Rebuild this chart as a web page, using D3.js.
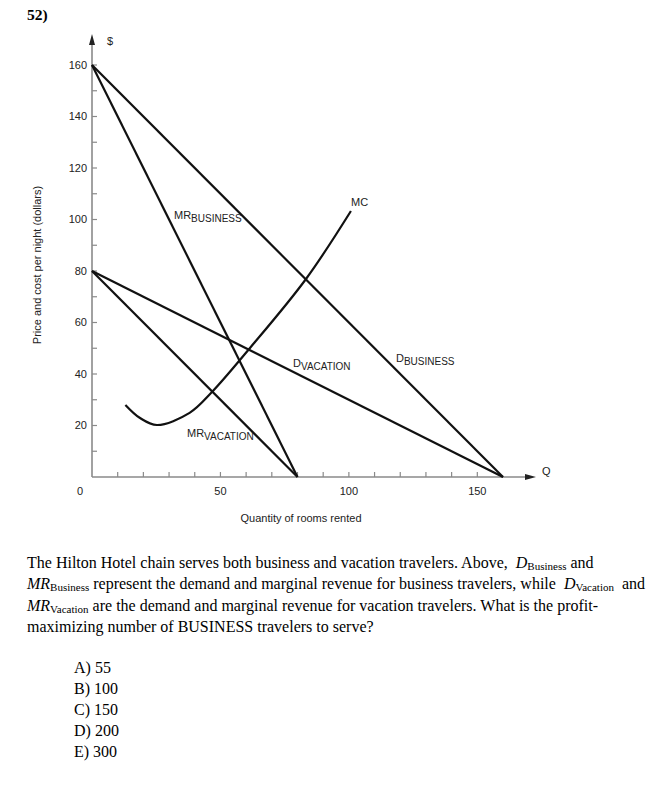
<!DOCTYPE html>
<html>
<head>
<meta charset="utf-8">
<script src="https://cdn.jsdelivr.net/npm/d3@7"></script>
<style>
  body { margin: 0; background: #fff; }
  svg { display: block; }
  .lbl { font-family: "Liberation Sans", Arial, sans-serif; fill: #222; }
  .serif { font-family: "Liberation Serif", "Times New Roman", serif; fill: #000; }
</style>
</head>
<body>
<div id="grafico"></div>
<script>
// dados das curvas (Q, P)
var demandaBusiness = [[0, 160], [160, 0]],
    mrBusiness = [[0, 160], [80, 0]],
    demandaVacation = [[0, 80], [160, 0]],
    mrVacation = [[0, 80], [80, 0]],
    custoMarginal = [[13, 28], [18.7, 22.9], [25.3, 20.2], [38, 24.9], [46.7, 33], [61.5, 50.1], [83.3, 76.9], [100.8, 103.3]];

var yTicks = [10, 20, 30, 40, 50, 60, 70, 80, 90, 100, 110, 120, 130, 140, 150, 160],
    yTickLabels = [20, 40, 60, 80, 100, 120, 140, 160],
    xTicks = [10, 20, 30, 40, 50, 60, 70, 80, 90, 100, 110, 120, 130, 140, 150],
    xTickLabels = [50, 100, 150];

var respostas = ["A) 55", "B) 100", "C) 150", "D) 200", "E) 300"];

var width = 670,
    height = 800;

var svg = d3.select("#grafico").append("svg")
    .attr("width", width)
    .attr("height", height);

svg.append("rect").attr("width", width).attr("height", height).attr("fill", "white");

var x = d3.scaleLinear().domain([0, 160]).range([92, 503]);
var y = d3.scaleLinear().domain([0, 160]).range([477, 65]);

// numero da questao
svg.append("text")
    .attr("class", "serif")
    .attr("x", 27).attr("y", 20)
    .attr("font-size", "15.5px")
    .attr("font-weight", "bold")
    .text("52)");

// eixos
var eixoCor = "#8a8a8a";
svg.append("line")
    .attr("x1", x(0)).attr("x2", x(0))
    .attr("y1", y(0)).attr("y2", 44)
    .attr("stroke", eixoCor).attr("stroke-width", 1.6);
svg.append("path")
    .attr("d", "M" + (x(0) - 3) + ",45 L" + x(0) + ",34 L" + (x(0) + 3) + ",45 Z")
    .attr("fill", "#222");

svg.append("line")
    .attr("x1", x(0)).attr("x2", 526)
    .attr("y1", y(0)).attr("y2", y(0))
    .attr("stroke", eixoCor).attr("stroke-width", 1.6);
svg.append("path")
    .attr("d", "M525," + (y(0) - 3) + " L536," + y(0) + " L525," + (y(0) + 3) + " Z")
    .attr("fill", "#222");

svg.append("text").attr("class", "lbl")
    .attr("x", 107).attr("y", 45)
    .attr("font-size", "11px")
    .text("$");
svg.append("text").attr("class", "lbl")
    .attr("x", 542).attr("y", 475)
    .attr("font-size", "11px")
    .text("Q");

// ticks do eixo y (para dentro)
svg.selectAll(".ytick").data(yTicks).enter().append("line")
    .attr("class", "ytick")
    .attr("x1", x(0)).attr("x2", x(0) + 5)
    .attr("y1", function(d) { return y(d); })
    .attr("y2", function(d) { return y(d); })
    .attr("stroke", eixoCor).attr("stroke-width", 1.2);

svg.selectAll(".ylab").data(yTickLabels).enter().append("text")
    .attr("class", "lbl ylab")
    .attr("x", x(0) - 5)
    .attr("y", function(d) { return y(d); })
    .attr("dy", "0.35em")
    .attr("text-anchor", "end")
    .attr("font-size", "11px")
    .text(function(d) { return d; });

svg.append("text").attr("class", "lbl")
    .attr("x", x(0) - 12).attr("y", y(0) + 14)
    .attr("dy", "0.35em")
    .attr("text-anchor", "middle")
    .attr("font-size", "11px")
    .text("0");

// ticks do eixo x
svg.selectAll(".xtick").data(xTicks).enter().append("line")
    .attr("class", "xtick")
    .attr("x1", function(d) { return x(d); })
    .attr("x2", function(d) { return x(d); })
    .attr("y1", y(0)).attr("y2", y(0) - 5)
    .attr("stroke", eixoCor).attr("stroke-width", 1.2);

svg.selectAll(".xlab").data(xTickLabels).enter().append("text")
    .attr("class", "lbl xlab")
    .attr("x", function(d) { return x(d); })
    .attr("y", y(0) + 14)
    .attr("dy", "0.35em")
    .attr("text-anchor", "middle")
    .attr("font-size", "11px")
    .text(function(d) { return d; });

// titulos dos eixos
svg.append("text").attr("class", "lbl")
    .attr("transform", "translate(41,265) rotate(-90)")
    .attr("text-anchor", "middle")
    .attr("font-size", "11px")
    .attr("fill", "#444")
    .text("Price and cost per night (dollars)");

svg.append("text").attr("class", "lbl")
    .attr("x", 301).attr("y", 522)
    .attr("text-anchor", "middle")
    .attr("font-size", "11px")
    .text("Quantity of rooms rented");

// curvas
var linha = d3.line()
    .x(function(d) { return x(d[0]); })
    .y(function(d) { return y(d[1]); });

[demandaBusiness, mrBusiness, demandaVacation, mrVacation].forEach(function(dados) {
  svg.append("path")
      .attr("d", linha(dados))
      .attr("stroke", "#111")
      .attr("stroke-width", 2.2)
      .attr("fill", "none");
});

svg.append("path")
    .attr("d", linha.curve(d3.curveCatmullRom)(custoMarginal))
    .attr("stroke", "#111")
    .attr("stroke-width", 2.2)
    .attr("fill", "none");

// rotulos das curvas com subscrito
function rotulo(px, py, principal, sub) {
  var t = svg.append("text").attr("class", "lbl")
      .attr("x", px).attr("y", py)
      .attr("font-size", "11px");
  t.append("tspan").text(principal);
  if (sub) {
    t.append("tspan").attr("dy", 3).attr("font-size", "10px").text(sub);
  }
}

rotulo(174, 219, "MR", "BUSINESS");
rotulo(351, 206, "MC");
rotulo(293, 367, "D", "VACATION");
rotulo(396, 362, "D", "BUSINESS");
rotulo(187, 437, "MR", "VACATION");

// texto da questao
var linhas = [
  [["The Hilton Hotel chain serves both business and vacation travelers. Above,  ", ""], ["D", "i"], ["Business", "s"], [" and", ""]],
  [["MR", "i"], ["Business", "s"], [" represent the demand and marginal revenue for business travelers, while  ", ""], ["D", "i"], ["Vacation", "s"], ["  and", ""]],
  [["MR", "i"], ["Vacation", "s"], [" are the demand and marginal revenue for vacation travelers. What is the profit-", ""]],
  [["maximizing number of BUSINESS travelers to serve?", ""]]
];

linhas.forEach(function(partes, i) {
  var t = svg.append("text").attr("class", "serif")
      .attr("x", 27).attr("y", 568 + i * 21.3)
      .attr("font-size", "16px")
      .attr("xml:space", "preserve");
  var desc = 0;
  partes.forEach(function(p) {
    var ts = t.append("tspan").text(p[0]);
    if (p[1] == "i") ts.attr("font-style", "italic");
    if (p[1] == "s") {
      ts.attr("font-size", "11px").attr("dy", 2);
      desc = 2;
    } else if (desc) {
      ts.attr("dy", -desc);
      desc = 0;
    }
  });
});

svg.selectAll(".resp").data(respostas).enter().append("text")
    .attr("class", "serif resp")
    .attr("x", 74)
    .attr("y", function(d, i) { return 673 + i * 20.9; })
    .attr("font-size", "16px")
    .text(function(d) { return d; });
</script>
</body>
</html>
